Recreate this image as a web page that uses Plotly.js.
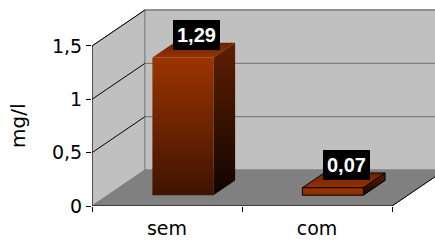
<!DOCTYPE html>
<html><head><meta charset="utf-8">
<script src="https://cdn.plot.ly/plotly-3.0.1.min.js"></script>
<style>html,body{margin:0;padding:0;background:#fff}#chart{width:435px;height:241px}</style>
</head><body><div id="chart"></div>
<script>
const categories = ['sem', 'com'];
const values = [1.29, 0.07];
const labels = ['1,29', '0,07'];
const yTicks = [0, 0.5, 1, 1.5];
const yTickText = ['0', '0,5', '1', '1,5'];
const yTitle = 'mg/l';

// 3D projection helpers (data units)
const X0 = -0.5, X1 = 1.5, YMAX = 1.5;
const DX = 0.3533, DY = 0.3375;   // full depth offset
const D1 = 0.30, D2 = 0.71;       // bar front/back depth fraction
const W = 0.4067;                 // bar width

const traces = [];
function poly(xs, ys, fill, line, lw, extra) {
  const t = Object.assign({type:'scatter', mode:'lines', x: xs.concat([xs[0]]), y: ys.concat([ys[0]]),
    fill:'toself', fillcolor: fill, line:{color: line, width: lw}, hoverinfo:'skip', showlegend:false}, extra||{});
  traces.push(t);
}
function seg(xs, ys, color, w) {
  traces.push({type:'scatter', mode:'lines', x: xs, y: ys, line:{color: color, width: w}, hoverinfo:'skip', showlegend:false});
}
// left wall
poly([X0, X0+DX, X0+DX, X0], [0, DY, YMAX+DY, YMAX], '#c0c0c0', '#808080', 1);
// back wall
poly([X0+DX, X1+DX, X1+DX, X0+DX], [DY, DY, YMAX+DY, YMAX+DY], '#c0c0c0', '#808080', 1);
// floor
poly([X0, X1, X1+DX, X0+DX], [0, 0, DY, DY], '#808080', '#808080', 1);
// gridlines
yTicks.forEach(v => {
  if (v > 0) {
    seg([X0, X0+DX], [v, v+DY], '#000000', 1);
    seg([X0+DX, X1+DX], [v+DY, v+DY], '#808080', 1.3);
  }
});
// floor right edge & front edge, left axis
seg([X1, X1+DX], [0, DY], '#000000', 1);
seg([X0, X1], [0, 0], '#000000', 1);
seg([X0, X0], [0, YMAX], '#000000', 1);

// bars
values.forEach((v, i) => {
  const L1 = i - W/2 + D1*DX, R1 = i + W/2 + D1*DX, B1 = D1*DY, T1 = v + D1*DY;
  const sx = (D2-D1)*DX, sy = (D2-D1)*DY;
  const L2 = L1+sx, R2 = R1+sx, B2 = B1+sy, T2 = T1+sy;
  const edge = i === 0 ? 'rgba(0,0,0,0)' : '#000000';
  // side
  poly([R1, R2, R2, R1], [B1, B2, T2, T1], '#3a1000', edge, 1,
       {fillgradient:{type:'vertical', colorscale:[[0,'#120400'],[1,'#5e1f00']]}});
  // top
  poly([L1, R1, R2, L2], [T1, T1, T2, T2], '#7a2800', edge, 1,
       {fillgradient:{type:'vertical', colorscale:[[0,'#973200'],[1,'#6a2200']]}});
  // front
  poly([L1, R1, R1, L1], [B1, B1, T1, T1], '#993300', edge, 1,
       {fillgradient:{type:'vertical', colorscale:[[0, i===0?'#3e1300':'#8a2e00'],[1,'#9c3400']]}});
});

const annotations = values.map((v, i) => ({
  x: i + (D1+D2)/2*DX, y: v + D2*DY, xref:'x', yref:'y', text: labels[i], showarrow:false,
  yanchor:'bottom', yshift:-7, xshift:3, bgcolor:'#000000', borderpad:4, borderwidth:0,
  font:{family:'Liberation Sans, Arial, sans-serif', size:20, color:'#ffffff', weight:'bold'}
}));
annotations.push({
  xref:'paper', yref:'y', x:-0.2157, y:YMAX/2, text:yTitle, textangle:-90, showarrow:false,
  xanchor:'center', yanchor:'middle', font:{family:'DejaVu Sans, Arial, sans-serif', size:20, color:'#000'}
});

const layout = {
  width:435, height:241, margin:{l:92, r:0, t:0, b:35},
  paper_bgcolor:'#ffffff', plot_bgcolor:'rgba(0,0,0,0)',
  showlegend:false,
  font:{family:'DejaVu Sans, Arial, sans-serif', size:19, color:'#000000'},
  xaxis:{range:[-0.5, 1.7867], showgrid:false, zeroline:false, showline:false,
    tickmode:'array', tickvals:[0,1], ticktext:categories, ticks:'', ticklabelstandoff:9,
    minor:{tickmode:'array', tickvals:[-0.5,0.5,1.5], ticks:'outside', ticklen:5, tickcolor:'#000', showgrid:false},
    tickfont:{size:19}, fixedrange:true},
  yaxis:{range:[0, 1.931], showgrid:false, zeroline:false, showline:false,
    tickmode:'array', tickvals:yTicks, ticktext:yTickText, ticks:'outside', ticklen:5, tickcolor:'#000',
    tickfont:{size:19}, fixedrange:true},
  annotations: annotations
};
Plotly.newPlot('chart', traces, layout, {staticPlot:true});
</script></body></html>
